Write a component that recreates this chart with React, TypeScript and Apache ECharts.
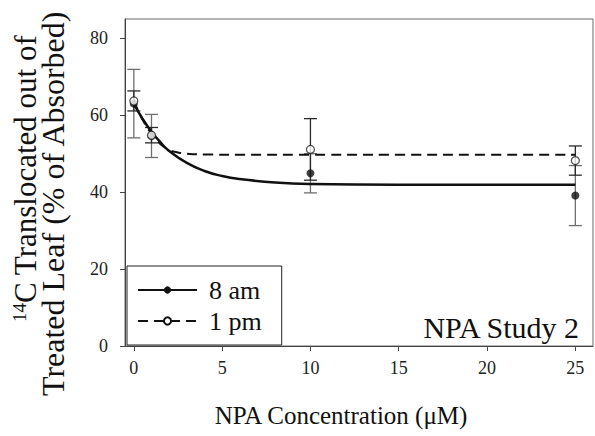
import React, { useEffect, useRef } from "react";
import * as echarts from "echarts";

// Measured means and standard errors
const doseX = [0, 1, 10, 25];
const am8Mean = [63.0, 54.6, 44.9, 39.1];
const am8Err = [8.9, 5.6, 5.1, 7.8];
const pm1Mean = [63.7, 54.8, 51.1, 48.2];
const pm1Err = [2.6, 2.0, 8.0, 3.8];

// Fitted decay curves (sampled along the concentration axis)
const am8CurveX = [0, 0.5, 1, 1.5, 2, 3, 4, 5, 6, 8, 10, 15, 20, 25];
const am8CurveY = [63, 59, 55.7, 53, 50.7, 47.6, 45.5, 44.2, 43.4, 42.5, 42.1, 41.9, 41.9, 41.9];
const pm1CurveX = [0, 0.5, 1, 1.5, 2, 2.5, 3, 4, 6, 10, 15, 20, 25];
const pm1CurveY = [63.7, 58.8, 55.2, 52.5, 51.0, 50.3, 50.0, 49.8, 49.7, 49.7, 49.7, 49.7, 49.7];

const xTicks = [0, 5, 10, 15, 20, 25];
const yTicks = [0, 20, 40, 60, 80];

const SERIF = "Liberation Serif";

function errorBars(name: string, xs: number[], ys: number[], errs: number[], color: string, z: number) {
  return {
    type: "custom",
    name,
    z,
    data: xs.map((x, i) => [x, ys[i] - errs[i], ys[i] + errs[i]]),
    encode: { x: 0, y: [1, 2] },
    renderItem: (_params: any, api: any) => {
      const x = api.value(0);
      const lo = api.coord([x, api.value(1)]);
      const hi = api.coord([x, api.value(2)]);
      const hw = 6.5;
      const style = { stroke: color, lineWidth: 1.3 };
      return {
        type: "group",
        children: [
          { type: "line", shape: { x1: lo[0], y1: lo[1], x2: hi[0], y2: hi[1] }, style },
          { type: "line", shape: { x1: lo[0] - hw, y1: lo[1], x2: lo[0] + hw, y2: lo[1] }, style },
          { type: "line", shape: { x1: hi[0] - hw, y1: hi[1], x2: hi[0] + hw, y2: hi[1] }, style },
        ],
      };
    },
  };
}

export default function App() {
  const ref = useRef<HTMLDivElement>(null);

  useEffect(() => {
    if (!ref.current) return;
    const chart = echarts.init(ref.current, null, { renderer: "svg" });
    chart.setOption({
      animation: false,
      backgroundColor: "#ffffff",
      textStyle: { fontFamily: SERIF },
      grid: {
        left: 125,
        right: 2,
        top: 19,
        bottom: 90,
        show: true,
        borderColor: "#6a6a6a",
        borderWidth: 1,
      },
      xAxis: {
        type: "value",
        min: -0.5,
        max: 26,
        axisLine: { show: true, onZero: false, lineStyle: { color: "#444", width: 1 } },
        axisTick: { show: true, length: 5, customValues: xTicks, lineStyle: { color: "#444" } },
        axisLabel: {
          customValues: xTicks,
          margin: 13,
          fontSize: 18,
          fontFamily: SERIF,
          color: "#222",
        },
        splitLine: { show: false },
      },
      yAxis: {
        type: "value",
        min: 0,
        max: 85,
        axisLine: { show: true, onZero: false, lineStyle: { color: "#444", width: 1 } },
        axisTick: { show: true, length: 5, customValues: yTicks, lineStyle: { color: "#444" } },
        axisLabel: {
          customValues: yTicks,
          margin: 17,
          fontSize: 18,
          fontFamily: SERIF,
          color: "#222",
        },
        splitLine: { show: false },
      },
      legend: {
        orient: "vertical",
        left: 127,
        top: 266,
        padding: [10, 20, 10, 10],
        itemGap: 3,
        itemWidth: 59,
        itemHeight: 9,
        borderColor: "#222",
        borderWidth: 1,
        backgroundColor: "#ffffff",
        selectedMode: false,
        textStyle: {
          fontFamily: SERIF,
          fontSize: 26,
          color: "#111",
          lineHeight: 28,
          padding: [0, 0, 0, 7],
        },
        data: ["8 am", "1 pm"],
      },
      series: [
        errorBars("8 am SE", doseX, am8Mean, am8Err, "#6e6e6e", 2),
        errorBars("1 pm SE", doseX, pm1Mean, pm1Err, "#2a2a2a", 2),
        {
          type: "line",
          name: "8 am",
          data: am8CurveX.map((x, i) => [x, am8CurveY[i]]),
          smooth: true,
          symbol: "circle",
          showSymbol: false,
          lineStyle: { color: "#111", width: 2.5 },
          itemStyle: { color: "#111" },
          z: 3,
        },
        {
          type: "line",
          name: "1 pm",
          data: pm1CurveX.map((x, i) => [x, pm1CurveY[i]]),
          smooth: true,
          symbol: "circle",
          showSymbol: false,
          lineStyle: { color: "#111", width: 2, type: [10, 6] },
          itemStyle: { color: "#ffffff", borderColor: "#111", borderWidth: 1 },
          z: 3,
        },
        {
          type: "scatter",
          name: "8 am points",
          data: doseX.map((x, i) => [x, am8Mean[i]]),
          symbol: "circle",
          symbolSize: 8,
          itemStyle: { color: "#111" },
          z: 4,
        },
        {
          type: "scatter",
          name: "1 pm points",
          data: doseX.map((x, i) => [x, pm1Mean[i]]),
          symbol: "circle",
          symbolSize: 8,
          itemStyle: { color: "#ffffff", borderColor: "#222", borderWidth: 1.2 },
          z: 5,
        },
      ],
      graphic: [
        {
          type: "text",
          x: 25,
          y: 322,
          rotation: Math.PI / 2,
          style: {
            text: "{sup|14}C Translocated out of",
            fontFamily: SERIF,
            fontSize: 31,
            fill: "#111",
            textAlign: "left",
            textVerticalAlign: "middle",
            rich: {
              sup: { fontSize: 19, fontFamily: SERIF, fill: "#111", verticalAlign: "top" },
            },
          },
        },
        {
          type: "text",
          x: 53,
          y: 396,
          rotation: Math.PI / 2,
          style: {
            text: "Treated Leaf (% of Absorbed)",
            fontFamily: SERIF,
            fontSize: 32,
            fill: "#111",
            textAlign: "left",
            textVerticalAlign: "middle",
          },
        },
        {
          type: "text",
          x: 341,
          y: 415,
          style: {
            text: "NPA Concentration (\u03bcM)",
            fontFamily: SERIF,
            fontSize: 25,
            fill: "#111",
            textAlign: "center",
            textVerticalAlign: "middle",
          },
        },
        {
          type: "text",
          x: 579,
          y: 327,
          style: {
            text: "NPA Study 2",
            fontFamily: SERIF,
            fontSize: 30,
            fill: "#111",
            textAlign: "right",
            textVerticalAlign: "middle",
          },
        },
      ],
    });
    return () => chart.dispose();
  }, []);

  return (
    <div
      ref={ref}
      style={{ position: "fixed", left: 0, top: 0, width: 595, height: 436, background: "#fff" }}
    />
  );
}
